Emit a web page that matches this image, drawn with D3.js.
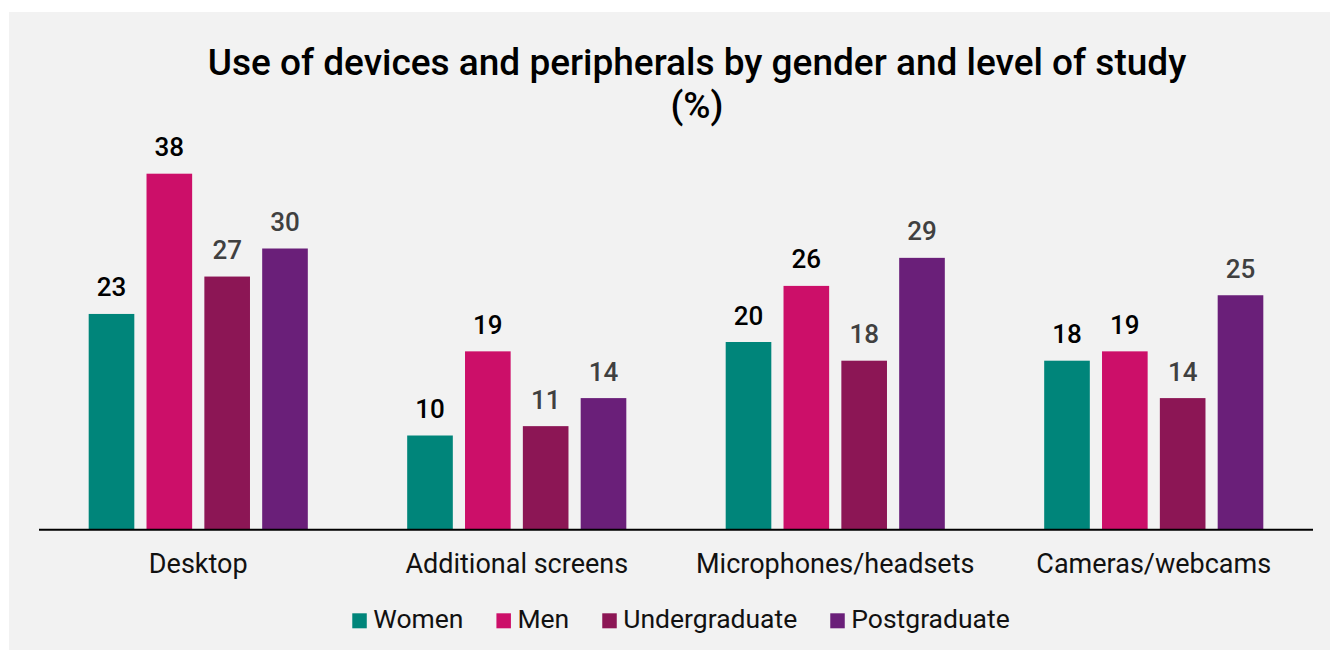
<!DOCTYPE html>
<html>
<head>
<meta charset="utf-8">
<script src="https://cdn.jsdelivr.net/npm/d3@7/dist/d3.min.js"></script>
<style>
  html, body { margin: 0; padding: 0; background: #ffffff; }
  svg { display: block; font-family: Roboto, "Noto Sans", sans-serif; }
</style>
</head>
<body>
<svg id="chart" width="1330" height="650"></svg>
<script>
// Device usage (%) by gender and level of study
const categories = ["Desktop", "Additional screens", "Microphones/headsets", "Cameras/webcams"];
const seriesNames = ["Women", "Men", "Undergraduate", "Postgraduate"];
const women = [23, 10, 20, 18];
const men = [38, 19, 26, 19];
const undergraduate = [27, 11, 18, 14];
const postgraduate = [30, 14, 29, 25];
const seriesColors = ["#00857a", "#cc0f69", "#8c1655", "#6a1f79"];
const labelColors = ["#000000", "#000000", "#404040", "#404040"];
const titleLines = ["Use of devices and peripherals by gender and level of study", "(%)"];

const seriesValues = [women, men, undergraduate, postgraduate];
const rows = categories.map((c, i) => ({
  category: c,
  values: seriesNames.map((s, j) => ({ series: s, idx: j, value: seriesValues[j][i] }))
}));

const svg = d3.select("#chart");
const W = 1330, H = 650;

// Panel background
svg.append("rect")
  .attr("x", 9).attr("y", 12)
  .attr("width", W - 9).attr("height", H - 12)
  .attr("fill", "#f2f2f2");

// Title
const title = svg.append("text")
  .attr("text-anchor", "middle")
  .attr("font-size", 37)
  .attr("font-weight", 500)
  .attr("fill", "#000");
title.selectAll("tspan").data(titleLines).join("tspan")
  .attr("x", 697)
  .attr("y", (d, i) => 74.5 + i * 43)
  .text(d => d);

// Scales
const plotLeft = 39, plotRight = 1313, baseY = 529;
const x0 = d3.scaleBand().domain(categories).range([plotLeft, plotRight]).padding(0);
const bw = x0.bandwidth();
const x1 = d3.scaleBand().domain(seriesNames)
  .range([bw * 0.156, bw * 0.844]).paddingInner(0.211).paddingOuter(0);
const y = d3.scaleLinear().domain([0, 40]).range([baseY, baseY - 374]);

// Bars
const groups = svg.append("g").selectAll("g").data(rows).join("g")
  .attr("transform", d => `translate(${x0(d.category)},0)`);

groups.selectAll("rect").data(d => d.values).join("rect")
  .attr("x", d => x1(d.series))
  .attr("y", d => y(d.value))
  .attr("width", x1.bandwidth())
  .attr("height", d => y(0) - y(d.value))
  .attr("fill", d => seriesColors[d.idx]);

// Value labels
groups.selectAll("text.val").data(d => d.values).join("text")
  .attr("class", "val")
  .attr("x", d => x1(d.series) + x1.bandwidth() / 2)
  .attr("y", d => y(d.value) - 17.5)
  .attr("text-anchor", "middle")
  .attr("font-size", 26)
  .attr("font-weight", 500)
  .attr("fill", d => labelColors[d.idx])
  .text(d => d.value);

// Category axis
const xAxis = svg.append("g")
  .attr("transform", `translate(0,${baseY + 0.7})`)
  .call(d3.axisBottom(x0).tickSize(0).tickPadding(0));
xAxis.select(".domain").attr("stroke", "#000").attr("stroke-width", 2)
  .attr("d", `M${plotLeft},0H${plotRight}`);
xAxis.selectAll(".tick text")
  .attr("font-size", 27)
  .attr("font-family", "Roboto, sans-serif")
  .attr("fill", "#111")
  .attr("dy", null)
  .attr("y", 43.5);

// Legend
const legend = svg.append("g");
const items = legend.selectAll("g").data(seriesNames).join("g");
items.append("rect")
  .attr("width", 14.5).attr("height", 15)
  .attr("y", 613.3)
  .attr("fill", (d, i) => seriesColors[i]);
items.append("text")
  .attr("x", 21)
  .attr("y", 628.3)
  .attr("font-size", 26.5)
  .attr("fill", "#111")
  .text(d => d);
let cursor = 0;
const offsets = [];
items.each(function () {
  offsets.push(cursor);
  const tw = d3.select(this).select("text").node().getComputedTextLength();
  cursor += 21 + tw + 33;
});
const legendWidth = cursor - 33;
const legendStart = 681 - legendWidth / 2;
items.attr("transform", (d, i) => `translate(${legendStart + offsets[i]},0)`);
</script>
</body>
</html>
